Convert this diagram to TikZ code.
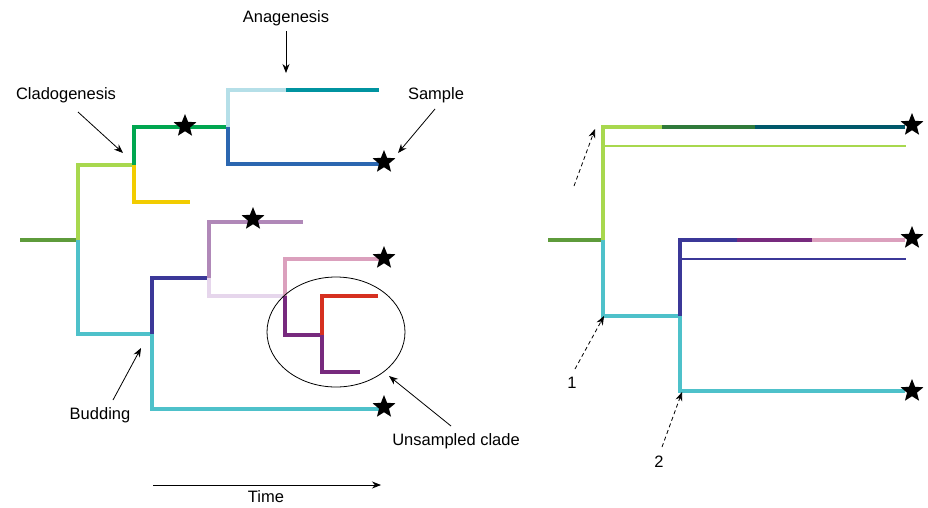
\documentclass[tikz,border=0pt]{standalone}
\usepackage{fontspec}
\setmainfont{Liberation Sans}
\usetikzlibrary{arrows.meta,shapes.geometric}
\definecolor{cRoot}{HTML}{5E9B3B}
\definecolor{cLgreen}{HTML}{A8D84E}
\definecolor{cGreen}{HTML}{00A650}
\definecolor{cYellow}{HTML}{F2CC00}
\definecolor{cLblue}{HTML}{B5DFE8}
\definecolor{cTeal}{HTML}{0093A0}
\definecolor{cBlue}{HTML}{2B67B0}
\definecolor{cCyan}{HTML}{4EC1CA}
\definecolor{cIndigo}{HTML}{3B3898}
\definecolor{cLpurple}{HTML}{B088B8}
\definecolor{cLavender}{HTML}{E6D6EC}
\definecolor{cPink}{HTML}{DBA0BD}
\definecolor{cDpurple}{HTML}{772A7E}
\definecolor{cRed}{HTML}{D63020}
\definecolor{cDgreen}{HTML}{2F7A3A}
\definecolor{cDteal}{HTML}{00586A}
\tikzset{
  br/.style={line width=4pt, line join=miter, line cap=butt},
  thinbr/.style={line width=1.6pt},
  starmark/.style={star, star points=5, star point ratio=2.3, fill=black, draw=none, minimum size=24pt, inner sep=0pt},
  lbl/.style={font=\fontsize{16.5}{18}\selectfont, inner sep=1pt},
  callout/.style={-{Stealth[length=9pt,width=7pt]}, line width=0.8pt},
  dcallout/.style={-{Stealth[length=9pt,width=7pt]}, line width=0.8pt, dash pattern=on 4pt off 3pt}
}
\begin{document}
\begin{tikzpicture}[x=1pt,y=-1pt]
\useasboundingbox (0,0) rectangle (928,507);
% ---------- left tree coordinates ----------
\coordinate (r0) at (20,240);
\coordinate (n1) at (78,240);
\coordinate (n1u) at (78,165);
\coordinate (n1d) at (78,334);
\coordinate (n2) at (134,165);
\coordinate (n2u) at (134,127);
\coordinate (n2d) at (134,202);
\coordinate (y1) at (190,202);
\coordinate (n3) at (228,127);
\coordinate (n3u) at (228,90);
\coordinate (n3d) at (228,164);
\coordinate (ana) at (286,90);
\coordinate (t1) at (379,90);
\coordinate (b1) at (380,164);
\coordinate (n4) at (152,334);
\coordinate (n4u) at (152,278);
\coordinate (n4d) at (152,409);
\coordinate (c1) at (380,409);
\coordinate (n5) at (209,278);
\coordinate (n5u) at (209,222);
\coordinate (n5d) at (209,296);
\coordinate (p1) at (303,222);
\coordinate (n6) at (285,296);
\coordinate (n6u) at (285,259);
\coordinate (n6d) at (285,335);
\coordinate (k1) at (380,259);
\coordinate (n7) at (322,335);
\coordinate (n7u) at (322,296);
\coordinate (n7d) at (322,372);
\coordinate (rd1) at (378,296);
\coordinate (dp1) at (360,372);
% ---------- left tree branches ----------
\draw[br, cRoot] (r0) -- (n1);
\draw[br, cLgreen] (n1) -- (n1u) -- (n2);
\draw[br, cGreen] (n2) -- (n2u) -- (n3);
\draw[br, cYellow] (n2) -- (n2d) -- (y1);
\draw[br, cLblue] (n3) -- (n3u) -- (ana);
\draw[br, cTeal] (ana) -- (t1);
\draw[br, cBlue] (n3) -- (n3d) -- (b1);
\draw[br, cCyan] (n1) -- (n1d) -- (n4) -- (n4d) -- (c1);
\draw[br, cIndigo] (n4) -- (n4u) -- (n5);
\draw[br, cLpurple] (n5) -- (n5u) -- (p1);
\draw[br, cLavender] (n5) -- (n5d) -- (n6);
\draw[br, cPink] (n6) -- (n6u) -- (k1);
\draw[br, cDpurple] (n6) -- (n6d) -- (n7) -- (n7d) -- (dp1);
\draw[br, cRed] (n7) -- (n7u) -- (rd1);
% stars
\node[starmark] (s1) at (185,126) {};
\node[starmark] (s2) at (384,162) {};
\node[starmark] (s3) at (253,219) {};
\node[starmark] (s4) at (384,258) {};
\node[starmark] (s5) at (384,407) {};
% unsampled clade ellipse
\node[draw, ellipse, line width=0.8pt, minimum width=138pt, minimum height=110pt, inner sep=0pt] (ell) at (336,332) {};
% labels and callouts
\node[lbl] (lana) at (286,18) {Anagenesis};
\coordinate (lanaS) at (286,31);
\coordinate (lanaE) at (286,73);
\draw[callout] (lanaS) -- (lanaE);
\node[lbl] (lclado) at (66,95) {Cladogenesis};
\coordinate (lcladoS) at (78,112);
\coordinate (lcladoE) at (123,153);
\draw[callout] (lcladoS) -- (lcladoE);
\node[lbl] (lsample) at (436,95) {Sample};
\coordinate (lsampleS) at (435,109);
\coordinate (lsampleE) at (398,153);
\draw[callout] (lsampleS) -- (lsampleE);
\node[lbl] (lbud) at (100,415) {Budding};
\coordinate (lbudS) at (113,400);
\coordinate (lbudE) at (141,348);
\draw[callout] (lbudS) -- (lbudE);
\node[lbl] (lunsamp) at (456,441) {Unsampled clade};
\coordinate (lunS) at (451,426);
\coordinate (lunE) at (389,376);
\draw[callout] (lunS) -- (lunE);
\coordinate (timeS) at (153,485);
\coordinate (timeE) at (381,485);
\draw[callout] (timeS) -- (timeE);
\node[lbl, inner sep=0pt, anchor=base] (ltime) at (266,502.5) {Time};
% ---------- right tree ----------
\coordinate (R0) at (548,240);
\coordinate (R1) at (603,240);
\coordinate (R1u) at (603,127);
\coordinate (R1d) at (603,316);
\coordinate (Ra) at (662,127);
\coordinate (Rb) at (755,127);
\coordinate (Rc) at (905,127);
\coordinate (Rt1) at (603,146);
\coordinate (Rt1e) at (906,146);
\coordinate (R2) at (680,316);
\coordinate (R2u) at (680,240);
\coordinate (R2d) at (680,391);
\coordinate (Rd) at (737,240);
\coordinate (Re) at (812,240);
\coordinate (Rf) at (905,240);
\coordinate (Rt2) at (680,259);
\coordinate (Rt2e) at (906,259);
\coordinate (Rg) at (905,391);
\draw[br, cRoot] (R0) -- (R1);
\draw[thinbr, cLgreen] (Rt1) -- (Rt1e);
\draw[thinbr, cIndigo] (Rt2) -- (Rt2e);
\draw[br, cLgreen] (R1) -- (R1u) -- (Ra);
\draw[br, cDgreen] (Ra) -- (Rb);
\draw[br, cDteal] (Rb) -- (Rc);
\draw[br, cCyan] (R1) -- (R1d) -- (R2) -- (R2d) -- (Rg);
\draw[br, cIndigo] (R2) -- (R2u) -- (Rd);
\draw[br, cDpurple] (Rd) -- (Re);
\draw[br, cPink] (Re) -- (Rf);
\node[starmark] (S1) at (912,125) {};
\node[starmark] (S2) at (912,238) {};
\node[starmark] (S3) at (912,391) {};
% dashed callouts
\coordinate (d0S) at (574,186);
\coordinate (d0E) at (595,129);
\draw[dcallout] (d0S) -- (d0E);
\node[lbl] (l1) at (572,383) {1};
\coordinate (d1S) at (575,369);
\coordinate (d1E) at (604,316);
\draw[dcallout] (d1S) -- (d1E);
\node[lbl] (l2) at (659,462) {2};
\coordinate (d2S) at (662,447);
\coordinate (d2E) at (682,392);
\draw[dcallout] (d2S) -- (d2E);
\end{tikzpicture}
\end{document}
